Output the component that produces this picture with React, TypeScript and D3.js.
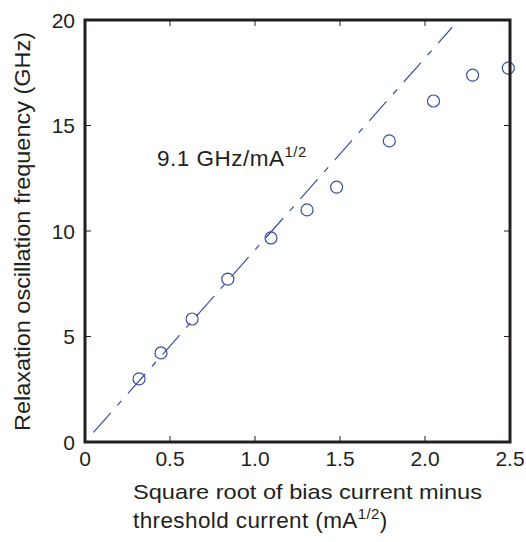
import * as d3 from "d3";

const sqrtCurrent = [0.318, 0.447, 0.63, 0.84, 1.094, 1.306, 1.48, 1.79, 2.05, 2.28, 2.49];
const frequency = [2.99, 4.22, 5.83, 7.72, 9.67, 11.0, 12.08, 14.27, 16.16, 17.39, 17.72];
const xTicks = [0, 0.5, 1.0, 1.5, 2.0, 2.5];
const xTickLabels = ["0", "0.5", "1.0", "1.5", "2.0", "2.5"];
const yTicks = [0, 5, 10, 15, 20];
const slope = 9.1;
const fitRange = [0.05, 2.16];

export default function App() {
  const width = 526;
  const height = 542;
  const left = 85;
  const right = 510;
  const top = 20;
  const bottom = 442;
  const ink = "#231f20";
  const blue = "#3a4fa0";
  const font = "'Liberation Sans', Arial, sans-serif";

  const x = d3.scaleLinear().domain([0, 2.5]).range([left, right]);
  const y = d3.scaleLinear().domain([0, 20]).range([bottom, top]);

  const fit = d3
    .line<number>()
    .x((d) => x(d))
    .y((d) => y(slope * d));

  return (
    <svg
      width={width}
      height={height}
      style={{ position: "absolute", left: 0, top: 0, background: "#fff" }}
      fontFamily={font}
    >
      <path
        d={fit(fitRange) ?? ""}
        fill="none"
        stroke={blue}
        strokeWidth={1.2}
        strokeDasharray="26,10,6,10"
      />
      {sqrtCurrent.map((v, i) => (
        <circle
          key={i}
          cx={x(v)}
          cy={y(frequency[i])}
          r={6}
          fill="none"
          stroke={blue}
          strokeWidth={1.2}
        />
      ))}
      {xTicks.slice(1, -1).map((t) => (
        <g key={t}>
          <line x1={x(t)} x2={x(t)} y1={bottom} y2={bottom - 6} stroke={ink} strokeWidth={1} />
          <line x1={x(t)} x2={x(t)} y1={top} y2={top + 6} stroke={ink} strokeWidth={1} />
        </g>
      ))}
      {yTicks.slice(1, -1).map((t) => (
        <g key={t}>
          <line x1={left} x2={left + 6} y1={y(t)} y2={y(t)} stroke={ink} strokeWidth={1} />
          <line x1={right} x2={right - 6} y1={y(t)} y2={y(t)} stroke={ink} strokeWidth={1} />
        </g>
      ))}
      <rect
        x={left}
        y={top}
        width={right - left}
        height={bottom - top}
        fill="none"
        stroke={ink}
        strokeWidth={3}
      />
      {xTicks.map((t, i) => (
        <text key={t} x={x(t)} y={466} textAnchor="middle" fontSize={21} fill={ink}>
          {xTickLabels[i]}
        </text>
      ))}
      {yTicks.map((t) => (
        <text key={t} x={75} y={y(t) + 7.5} textAnchor="end" fontSize={21} fill={ink}>
          {t}
        </text>
      ))}
      <text
        transform={`translate(30,231.5) rotate(-90)`}
        textAnchor="middle"
        fontSize={22}
        fill={ink}
        textLength={399}
        lengthAdjust="spacingAndGlyphs"
      >
        Relaxation oscillation frequency (GHz)
      </text>
      <text
        x={133}
        y={499}
        fontSize={21}
        fill={ink}
        textLength={349}
        lengthAdjust="spacingAndGlyphs"
      >
        Square root of bias current minus
      </text>
      <text x={133} y={528} fontSize={22.5} fill={ink} letterSpacing={0.4}>
        threshold current (mA
        <tspan fontSize={15} dy={-9}>1/2</tspan>
        <tspan dy={9}>)</tspan>
      </text>
      <text x={157} y={166} fontSize={22.5} fill={ink} letterSpacing={0.5}>
        9.1 GHz/mA
        <tspan fontSize={15} dy={-9}>1/2</tspan>
      </text>
    </svg>
  );
}
